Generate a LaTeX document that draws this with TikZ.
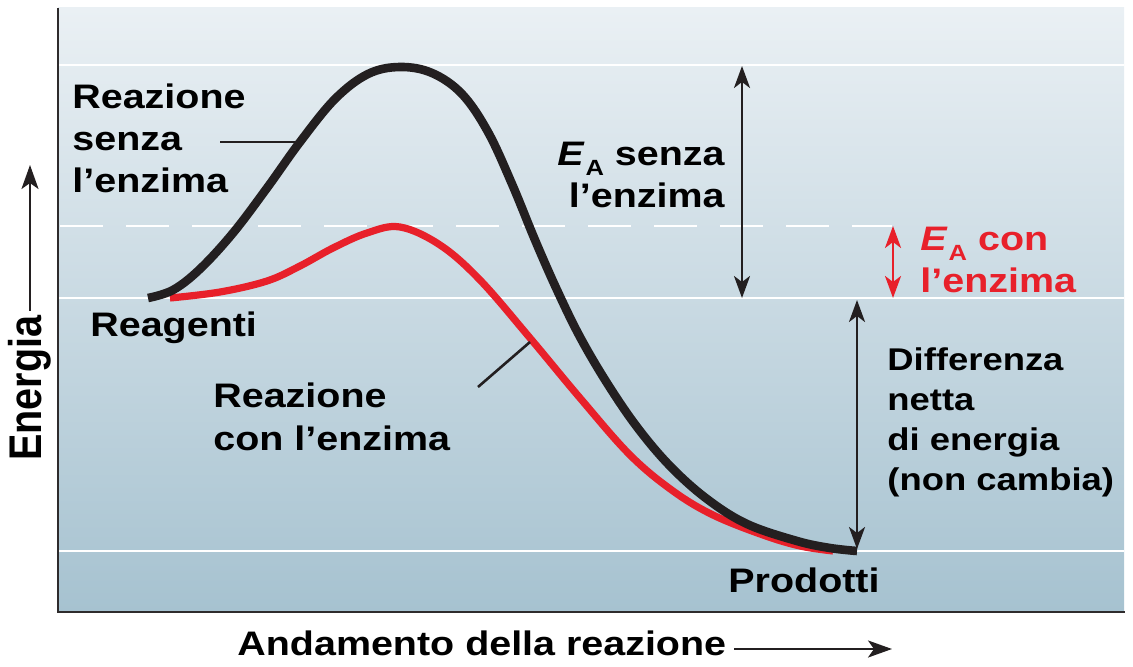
\documentclass[tikz,border=0pt]{standalone}
\usepackage{fontspec}
\setmainfont[FakeStretch=1.16]{Liberation Sans}
\newfontfamily\rotfont{Liberation Sans}
\usetikzlibrary{arrows.meta}
\definecolor{curveblack}{HTML}{231F20}
\definecolor{curvered}{HTML}{E8202A}
\definecolor{bgtop}{HTML}{EAF0F4}
\definecolor{bgbot}{HTML}{A6C2D0}
\definecolor{axisgray}{HTML}{2E2B2C}
\newcommand{\EA}{\textit{E}\kern0.5pt\raisebox{-5pt}{\fontsize{11}{11}\selectfont A}}
\begin{document}
\begin{tikzpicture}[x=0.5pt,y=-0.5pt,
  lbl/.style={inner sep=0pt, font=\bfseries\fontsize{17}{21}\selectfont, align=left, anchor=base west},
  smalllbl/.style={lbl, font=\bfseries\fontsize{15.7}{20}\selectfont},
  dimarrow/.style={line width=1.35pt, {Stealth[length=11pt,width=8pt,inset=3pt]}-{Stealth[length=11pt,width=8pt,inset=3pt]}},
  axarrow/.style={line width=1.35pt, -{Stealth[length=12pt,width=8.5pt,inset=3pt]}},
  pointer/.style={line width=1.3pt, curveblack},
  bandline/.style={white, line width=1pt},
  blackcurve/.style={curveblack, line width=4.3pt},
  redcurve/.style={curvered, line width=3.6pt},
  axis/.style={axisgray, line width=1.3pt}]
\useasboundingbox (0,0) rectangle (1133,667);
% background
\shade[top color=bgtop, bottom color=bgbot] (58,8) rectangle (1124,612);
\draw[bandline] (58,65) -- (1124,65);
\draw[bandline] (58,298) -- (1124,298);
\draw[bandline] (58,551) -- (1124,551);
\draw[white, line width=1pt, dash pattern=on 21.5pt off 11.5pt] (60,226) -- (892,226);
% axes
\draw[axis] (58,8) -- (58,612) -- (1125,612);
% curves
\draw[redcurve] plot[smooth, tension=0.6] coordinates {(170,298) (220,292) (267,281) (300,266) (333,248) (367,233) (400,227) (440,245) (480,280) (530,338) (580,398) (630,455) (673,491) (713,515) (763,535) (800,546) (833,551)};
\draw[blackcurve] plot[smooth, tension=0.6] coordinates {(148,298) (173,290) (200,269) (233,233) (267,188) (300,142) (335,99) (368,74) (400,67) (432,73) (462,94) (488,132) (512,184) (535,240) (557,290) (580,337) (607,383) (637,427) (670,466) (707,499) (747,524) (797,541) (830,548) (857,551)};
% labels
\node[lbl] (senza) at (72,193) {Reazione\\senza\\l’enzima};
\node[lbl] (reag) at (90,337) {Reagenti};
\node[lbl] (con) at (213,450) {Reazione\\con l’enzima};
\node[lbl, align=right, anchor=base east] (easenza) at (725,208) {\EA\ senza\\l’enzima};
\node[lbl, text=curvered] (eacon) at (920,293) {\EA\ con\\l’enzima};
\node[smalllbl] (diff) at (887,490) {Differenza\\netta\\di energia\\(non cambia)};
\node[lbl] (prod) at (728,592) {Prodotti};
\node[lbl] (xlab) at (237,655) {Andamento della reazione};
\node[rotate=90, inner sep=0pt, anchor=base west, font=\rotfont\bfseries\fontsize{19.75}{24}\selectfont] (ylab) at (41,461) {\scalebox{1}[1.16]{Energia}};
% pointer lines
\coordinate (p1a) at (220,142); \coordinate (p1b) at (300,142);
\draw[pointer] (p1a) -- (p1b);
\coordinate (p2a) at (478,387); \coordinate (p2b) at (530,342);
\draw[pointer] (p2a) -- (p2b);
% dimension arrows
\coordinate (ea1t) at (742,66); \coordinate (ea1b) at (742,298);
\draw[dimarrow, curveblack] (ea1t) -- (ea1b);
\coordinate (ea2t) at (893,226); \coordinate (ea2b) at (893,298);
\draw[dimarrow, curvered] (ea2t) -- (ea2b);
\coordinate (dt) at (857,300); \coordinate (db) at (857,549);
\draw[dimarrow, curveblack] (dt) -- (db);
% axis arrows
\coordinate (ys) at (30,311); \coordinate (yt) at (30,165);
\draw[axarrow, curveblack] (ys) -- (yt);
\coordinate (xs) at (734,649); \coordinate (xt) at (892,649);
\draw[axarrow, curveblack] (xs) -- (xt);
\end{tikzpicture}
\end{document}
